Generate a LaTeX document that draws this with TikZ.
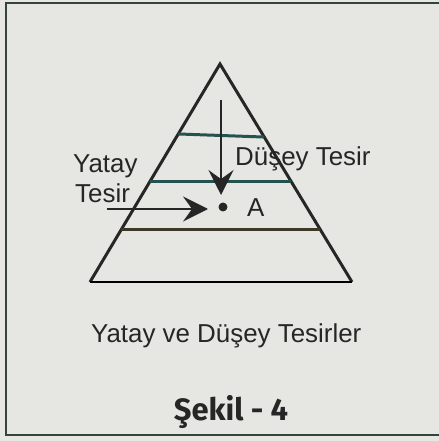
\documentclass[tikz,border=0pt]{standalone}
\usepackage{fontspec}
\setmainfont{Liberation Sans}
\newfontfamily\capfont{Fira Sans}
\usetikzlibrary{arrows.meta,calc}
\definecolor{paper}{HTML}{E6E7E2}
\definecolor{framec}{HTML}{34463C}
\definecolor{ink}{HTML}{262626}
\definecolor{tealine}{HTML}{24524E}
\definecolor{oliveline}{HTML}{3E3828}
\definecolor{baseline}{HTML}{2C3550}
\tikzset{
  lbl/.style={inner sep=0pt, anchor=base west, text=ink, font=\fontsize{26}{30}\selectfont},
  side/.style={draw=ink, line width=3pt, line join=miter},
  level/.style={line width=3pt},
  force/.style={draw=ink, line width=2.5pt, -{Stealth[length=25pt, width=25pt, inset=9pt]}},
}
\begin{document}
\begin{tikzpicture}[x=1bp,y=-1bp]
\useasboundingbox (0,0) rectangle (439,441);
\fill[paper] (-10,-10) rectangle (450,450);
\draw[framec, line width=3pt] (450,3) -- (6,3) -- (6,435) -- (450,435);

% triangle
\coordinate (apex) at (220,64);
\coordinate (bl) at (90,282);
\coordinate (br) at (352,282);
\draw[side] (bl) -- (apex) -- (br);
\draw[baseline, level] (bl) -- (br);

\coordinate (l1a) at ($(apex)!0.321!(bl)$);
\coordinate (l1b) at ($(apex)!0.335!(br)$);
\coordinate (l2a) at ($(apex)!0.541!(bl)$);
\coordinate (l2b) at ($(apex)!0.541!(br)$);
\coordinate (l3a) at ($(apex)!0.761!(bl)$);
\coordinate (l3b) at ($(apex)!0.761!(br)$);
\draw[tealine, level] (l1a) -- (l1b);
\draw[tealine, level] (l2a) -- (l2b);
\draw[oliveline, level] (l3a) -- (l3b);

% point A
\node[circle, fill=ink, inner sep=0pt, minimum size=9pt] (dot) at (223,207) {};
\node[lbl] (A) at (247,217) {A};

% forces
\coordinate (vtop) at (221,100);
\coordinate (vtip) at (221,195);
\coordinate (hstart) at (107,209);
\coordinate (htip) at (208,209);
\draw[force] (vtop) -- (vtip);
\draw[force] (hstart) -- (htip);

% labels
\node[lbl] (yatay) at (73,173) {Yatay};
\node[lbl] (tesir) at (75,203) {Tesir};
\node[lbl] (dusey) at (235,166) {Düşey Tesir};
\node[lbl] (caption) at (91,342) {Yatay ve Düşey Tesirler};
\node[inner sep=0pt, anchor=base, text=ink, font=\capfont\bfseries\fontsize{31}{36}\selectfont] (sekil) at (231,420) {Şekil - 4};
\end{tikzpicture}
\end{document}
